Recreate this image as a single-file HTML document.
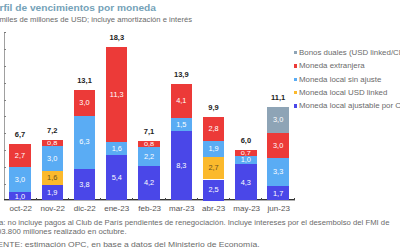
<!DOCTYPE html>
<html><head><meta charset="utf-8"><style>
html,body{margin:0;padding:0;background:#fff;width:400px;height:250px;overflow:hidden;position:relative;font-family:"Liberation Sans",sans-serif}
.s{position:absolute}
.lb{position:absolute;text-align:center;font-size:7.4px;line-height:10px}
.tot{position:absolute;text-align:center;font-size:7.5px;font-weight:bold;color:#222;line-height:10px}
.xl{position:absolute;text-align:center;font-size:7.5px;color:#555;line-height:1;transform:scaleX(1.07)}
.xt{position:absolute;top:197.6px;width:1px;height:2.4px;background:#444}
.yt{position:absolute;left:3.5px;width:2.5px;height:1px;background:#808080}
.yax{position:absolute;left:3.5px;top:32px;width:1.2px;height:168px;background:#a0a0a0}
.ycap{position:absolute;left:4px;top:32px;width:2px;height:1px;background:#777}
.xax{position:absolute;left:4px;top:199px;width:291px;height:2px;background:linear-gradient(#333 50%,#b0b0b0 50%)}
.sq{position:absolute;left:293.5px;width:3.3px;height:3.3px}
.t{position:absolute;white-space:nowrap;line-height:1;transform-origin:0 0}
</style></head><body>
<div class="yax"></div><div class="ycap"></div><div class="xax"></div>
<div class="yt" style="top:183.50px"></div>
<div class="yt" style="top:166.70px"></div>
<div class="yt" style="top:149.90px"></div>
<div class="yt" style="top:133.10px"></div>
<div class="yt" style="top:116.30px"></div>
<div class="yt" style="top:99.50px"></div>
<div class="yt" style="top:82.70px"></div>
<div class="yt" style="top:65.90px"></div>
<div class="yt" style="top:49.10px"></div>
<div class="s" style="left:9.29px;top:192.10px;width:21.4px;height:8.40px;background:#4a47e8"></div>
<div class="s" style="left:9.29px;top:166.90px;width:21.4px;height:25.20px;background:#5aacf4"></div>
<div class="s" style="left:9.29px;top:144.22px;width:21.4px;height:22.68px;background:#ec3a38"></div>
<div class="tot" style="left:-0.71px;top:130.22px;width:41.4px">6,7</div>
<div class="xl" style="left:-0.31px;top:205.15px;width:41.4px">oct-22</div>
<div class="xt" style="left:35.62px"></div>
<div class="s" style="left:41.56px;top:184.54px;width:21.4px;height:15.96px;background:#4a47e8"></div>
<div class="s" style="left:41.56px;top:171.10px;width:21.4px;height:13.44px;background:#fbb92c"></div>
<div class="s" style="left:41.56px;top:145.90px;width:21.4px;height:25.20px;background:#5aacf4"></div>
<div class="s" style="left:41.56px;top:140.02px;width:21.4px;height:5.88px;background:#ec3a38"></div>
<div class="tot" style="left:31.56px;top:126.02px;width:41.4px">7,2</div>
<div class="xl" style="left:31.96px;top:205.15px;width:41.4px">nov-22</div>
<div class="xt" style="left:67.89px"></div>
<div class="s" style="left:73.82px;top:168.58px;width:21.4px;height:31.92px;background:#4a47e8"></div>
<div class="s" style="left:73.82px;top:115.66px;width:21.4px;height:52.92px;background:#5aacf4"></div>
<div class="s" style="left:73.82px;top:90.46px;width:21.4px;height:25.20px;background:#ec3a38"></div>
<div class="tot" style="left:63.82px;top:76.46px;width:41.4px">13,1</div>
<div class="xl" style="left:64.22px;top:205.15px;width:41.4px">dic-22</div>
<div class="xt" style="left:100.16px"></div>
<div class="s" style="left:106.09px;top:155.14px;width:21.4px;height:45.36px;background:#4a47e8"></div>
<div class="s" style="left:106.09px;top:141.70px;width:21.4px;height:13.44px;background:#5aacf4"></div>
<div class="s" style="left:106.09px;top:46.78px;width:21.4px;height:94.92px;background:#ec3a38"></div>
<div class="tot" style="left:96.09px;top:32.78px;width:41.4px">18,3</div>
<div class="xl" style="left:96.49px;top:205.15px;width:41.4px">ene-23</div>
<div class="xt" style="left:132.42px"></div>
<div class="s" style="left:138.36px;top:165.71px;width:21.4px;height:34.79px;background:#4a47e8"></div>
<div class="s" style="left:138.36px;top:147.49px;width:21.4px;height:18.22px;background:#5aacf4"></div>
<div class="s" style="left:138.36px;top:140.86px;width:21.4px;height:6.63px;background:#ec3a38"></div>
<div class="tot" style="left:128.36px;top:126.86px;width:41.4px">7,1</div>
<div class="xl" style="left:128.76px;top:205.15px;width:41.4px">feb-23</div>
<div class="xt" style="left:164.69px"></div>
<div class="s" style="left:170.62px;top:130.78px;width:21.4px;height:69.72px;background:#4a47e8"></div>
<div class="s" style="left:170.62px;top:118.18px;width:21.4px;height:12.60px;background:#5aacf4"></div>
<div class="s" style="left:170.62px;top:83.74px;width:21.4px;height:34.44px;background:#ec3a38"></div>
<div class="tot" style="left:160.62px;top:69.74px;width:41.4px">13,9</div>
<div class="xl" style="left:161.03px;top:205.15px;width:41.4px">mar-23</div>
<div class="xt" style="left:196.96px"></div>
<div class="s" style="left:202.89px;top:179.50px;width:21.4px;height:21.00px;background:#4a47e8"></div>
<div class="s" style="left:202.89px;top:156.82px;width:21.4px;height:22.68px;background:#fbb92c"></div>
<div class="s" style="left:202.89px;top:140.86px;width:21.4px;height:15.96px;background:#5aacf4"></div>
<div class="s" style="left:202.89px;top:117.34px;width:21.4px;height:23.52px;background:#ec3a38"></div>
<div class="tot" style="left:192.89px;top:103.34px;width:41.4px">9,9</div>
<div class="xl" style="left:193.29px;top:205.15px;width:41.4px">abr-23</div>
<div class="xt" style="left:229.23px"></div>
<div class="s" style="left:235.16px;top:164.38px;width:21.4px;height:36.12px;background:#4a47e8"></div>
<div class="s" style="left:235.16px;top:155.98px;width:21.4px;height:8.40px;background:#5aacf4"></div>
<div class="s" style="left:235.16px;top:150.10px;width:21.4px;height:5.88px;background:#ec3a38"></div>
<div class="tot" style="left:225.16px;top:136.10px;width:41.4px">6,0</div>
<div class="xl" style="left:225.56px;top:205.15px;width:41.4px">may-23</div>
<div class="xt" style="left:261.49px"></div>
<div class="s" style="left:267.43px;top:186.09px;width:21.4px;height:14.41px;background:#4a47e8"></div>
<div class="s" style="left:267.43px;top:158.12px;width:21.4px;height:27.97px;background:#5aacf4"></div>
<div class="s" style="left:267.43px;top:132.69px;width:21.4px;height:25.43px;background:#ec3a38"></div>
<div class="s" style="left:267.43px;top:107.26px;width:21.4px;height:25.43px;background:#8ea4b6"></div>
<div class="tot" style="left:257.43px;top:93.26px;width:41.4px">11,1</div>
<div class="xl" style="left:257.83px;top:205.15px;width:41.4px">jun-23</div>
<div class="xt" style="left:293.76px"></div>
<div class="lb" style="left:4.29px;top:191.60px;width:31.4px;color:#fff;">1,0</div>
<div class="lb" style="left:4.29px;top:174.80px;width:31.4px;color:#fff;">3,0</div>
<div class="lb" style="left:4.29px;top:150.86px;width:31.4px;color:#fff;">2,7</div>
<div class="lb" style="left:36.56px;top:187.82px;width:31.4px;color:#fff;">1,9</div>
<div class="lb" style="left:36.56px;top:173.12px;width:31.4px;color:#6b5220;">1,6</div>
<div class="lb" style="left:36.56px;top:153.80px;width:31.4px;color:#fff;">3,0</div>
<div class="lb" style="left:36.56px;top:138.26px;width:31.4px;color:#fff;transform:scaleY(0.8);">0,8</div>
<div class="lb" style="left:68.82px;top:179.84px;width:31.4px;color:#fff;">3,8</div>
<div class="lb" style="left:68.82px;top:137.42px;width:31.4px;color:#fff;">6,3</div>
<div class="lb" style="left:68.82px;top:98.36px;width:31.4px;color:#fff;">3,0</div>
<div class="lb" style="left:101.09px;top:173.12px;width:31.4px;color:#fff;">5,4</div>
<div class="lb" style="left:101.09px;top:143.72px;width:31.4px;color:#fff;">1,6</div>
<div class="lb" style="left:101.09px;top:89.54px;width:31.4px;color:#fff;">11,3</div>
<div class="lb" style="left:133.36px;top:178.41px;width:31.4px;color:#fff;">4,2</div>
<div class="lb" style="left:133.36px;top:151.90px;width:31.4px;color:#fff;">2,2</div>
<div class="lb" style="left:133.36px;top:139.47px;width:31.4px;color:#fff;transform:scaleY(0.8);">0,8</div>
<div class="lb" style="left:165.62px;top:160.94px;width:31.4px;color:#fff;">8,3</div>
<div class="lb" style="left:165.62px;top:119.78px;width:31.4px;color:#fff;">1,5</div>
<div class="lb" style="left:165.62px;top:96.26px;width:31.4px;color:#fff;">4,1</div>
<div class="lb" style="left:197.89px;top:185.30px;width:31.4px;color:#fff;">2,5</div>
<div class="lb" style="left:197.89px;top:163.46px;width:31.4px;color:#6b5220;">2,7</div>
<div class="lb" style="left:197.89px;top:144.14px;width:31.4px;color:#fff;">1,9</div>
<div class="lb" style="left:197.89px;top:124.40px;width:31.4px;color:#fff;">2,8</div>
<div class="lb" style="left:230.16px;top:177.74px;width:31.4px;color:#fff;">4,3</div>
<div class="lb" style="left:230.16px;top:155.48px;width:31.4px;color:#fff;">1,0</div>
<div class="lb" style="left:230.16px;top:148.34px;width:31.4px;color:#fff;transform:scaleY(0.8);">0,7</div>
<div class="lb" style="left:262.43px;top:188.60px;width:31.4px;color:#fff;">1,7</div>
<div class="lb" style="left:262.43px;top:167.40px;width:31.4px;color:#fff;">3,3</div>
<div class="lb" style="left:262.43px;top:140.70px;width:31.4px;color:#fff;">3,0</div>
<div class="lb" style="left:262.43px;top:115.27px;width:31.4px;color:#fff;">3,0</div>
<div class="sq" style="top:50.90px;background:#8ea4b6"></div>
<div class="t" style="left:298.60px;top:48.84px;font-size:7.4px;color:#6a6a6a;transform:scaleX(1.065);">Bonos duales (USD linked/CER)</div>
<div class="sq" style="top:64.25px;background:#ec3a38"></div>
<div class="t" style="left:298.60px;top:62.19px;font-size:7.4px;color:#6a6a6a;transform:scaleX(1.065);">Moneda extranjera</div>
<div class="sq" style="top:77.60px;background:#5aacf4"></div>
<div class="t" style="left:298.60px;top:75.54px;font-size:7.4px;color:#6a6a6a;transform:scaleX(1.065);">Moneda local sin ajuste</div>
<div class="sq" style="top:90.95px;background:#fbb92c"></div>
<div class="t" style="left:298.60px;top:88.89px;font-size:7.4px;color:#6a6a6a;transform:scaleX(1.065);">Moneda local USD linked</div>
<div class="sq" style="top:104.30px;background:#4a47e8"></div>
<div class="t" style="left:298.60px;top:102.24px;font-size:7.4px;color:#6a6a6a;transform:scaleX(1.065);">Moneda local ajustable por CER</div>
<div class="t" style="left:-12.74px;top:2.76px;font-size:9.5px;color:#74a2b8;transform:scaleX(1.070);font-weight:bold;">Perfil de vencimientos por moneda</div>
<div class="t" style="left:-11.68px;top:16.28px;font-size:7.7px;color:#6a6a6a;transform:scaleX(0.995);">En miles de millones de USD; incluye amortización e interés</div>
<div class="t" style="left:-13.03px;top:219.38px;font-size:7.7px;color:#6a6a6a;transform:scaleX(1.004);">Nota: no incluye pagos al Club de París pendientes de renegociación. Incluye intereses por el desembolso del FMI de</div>
<div class="t" style="left:-3.15px;top:228.38px;font-size:7.7px;color:#6a6a6a;transform:scaleX(1.014);">03.800 millones realizado en octubre.</div>
<div class="t" style="left:-14.20px;top:241.08px;font-size:7.7px;color:#6a6a6a;transform:scaleX(1.110);">FUENTE: estimación OPC, en base a datos del Ministerio de Economía.</div>
</body></html>
